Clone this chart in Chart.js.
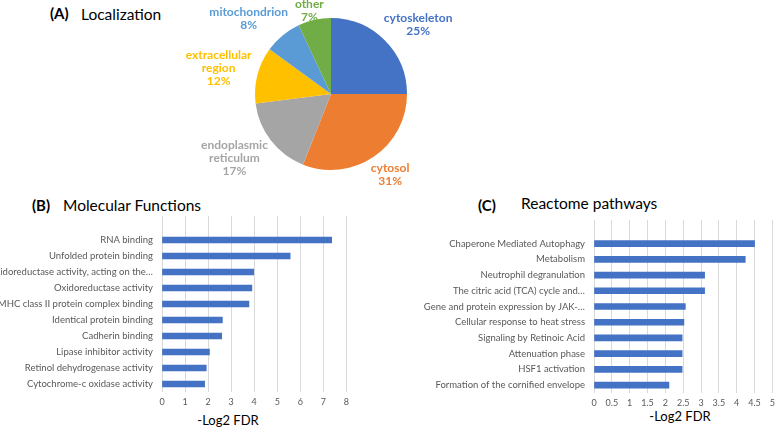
<!DOCTYPE html>
<html>
<head>
<meta charset="utf-8">
<script src="https://cdn.jsdelivr.net/npm/chart.js@4.4.1/dist/chart.umd.min.js"></script>
<style>
  body { margin: 0; width: 778px; height: 427px; overflow: hidden; background: #fff; position: relative; font-family: Lato, sans-serif; }
  .box { position: absolute; }
  .t { position: absolute; white-space: nowrap; line-height: 20px; color: #000; }
  .tag { font-weight: bold; font-size: 15px; }
  .name { font-size: 15.5px; }
  .axt { font-size: 13px; color: #000; transform: translateX(-50%); }
</style>
</head>
<body>
<div class="t tag" style="left:50px; top:3px;">(A)</div>
<div class="t name" style="left:81px; top:4px;">Localization</div>
<div class="t tag" style="left:32px; top:195px;">(B)</div>
<div class="t name" style="left:63px; top:195px;">Molecular Functions</div>
<div class="t tag" style="left:478px; top:195px;">(C)</div>
<div class="t name" style="left:521px; top:193px;">Reactome pathways</div>
<div class="t axt" style="left:228px; top:410px;">-Log2 FDR</div>
<div class="t axt" style="left:680px; top:406px;">-Log2 FDR</div>

<div class="box" style="left:150px; top:0px; width:350px; height:200px;"><canvas id="pie"></canvas></div>
<div class="box" style="left:0px; top:200px; width:354px; height:227px;"><canvas id="mf"></canvas></div>
<div class="box" style="left:380px; top:200px; width:400px; height:227px;"><canvas id="rp"></canvas></div>

<script>
// Localization (pie)
const locLabels = ['cytoskeleton', 'cytosol', 'endoplasmic reticulum', 'extracellular region', 'mitochondrion', 'other'];
const locValues = [25, 31, 17, 12, 8, 7];
const locColors = ['#4472C4', '#ED7D31', '#A5A5A5', '#FFC000', '#5B9BD5', '#70AD47'];

// Molecular Functions
const mfLabels = ['RNA binding', 'Unfolded protein binding', 'Oxidoreductase activity, acting on the…',
  'Oxidoreductase activity', 'MHC class II protein complex binding', 'Identical protein binding',
  'Cadherin binding', 'Lipase inhibitor activity', 'Retinol dehydrogenase activity', 'Cytochrome-c oxidase activity'];
const mfValues = [7.36, 5.56, 3.98, 3.9, 3.77, 2.62, 2.59, 2.06, 1.92, 1.85];

// Reactome pathways
const rpLabels = ['Chaperone Mediated Autophagy', 'Metabolism', 'Neutrophil degranulation',
  'The citric acid (TCA) cycle and…', 'Gene and protein expression by JAK-…', 'Cellular response to heat stress',
  'Signaling by Retinoic Acid', 'Attenuation phase', 'HSF1 activation', 'Formation of the cornified envelope'];
const rpValues = [4.5, 4.24, 3.1, 3.1, 2.56, 2.52, 2.47, 2.47, 2.47, 2.1];

Chart.defaults.font.family = 'Lato, sans-serif';
Chart.defaults.animation = false;

// labels outside each slice: anchor just past the rim, box leans away from the pie
const pieLabels = {
  id: 'pieLabels',
  afterDatasetsDraw(chart) {
    const ctx = chart.ctx;
    const meta = chart.getDatasetMeta(0);
    const lh = 13, gap = 6;
    ctx.save();
    ctx.font = 'bold 12px Lato, sans-serif';
    ctx.textAlign = 'center';
    ctx.textBaseline = 'middle';
    meta.data.forEach((arc, i) => {
      const lines = locLabels[i].split(' ').concat([locValues[i] + '%']);
      const w = Math.max(...lines.map(s => ctx.measureText(s).width));
      const h = lines.length * lh;
      const mid = (arc.startAngle + arc.endAngle) / 2;
      const ux = Math.cos(mid), uy = Math.sin(mid);
      const clamp = v => Math.max(-1, Math.min(1, v));
      const ax = arc.x + ux * (arc.outerRadius + gap);
      const ay = arc.y + uy * (arc.outerRadius + gap);
      const px = ax + clamp(ux * 1.2) * w / 2;
      let py = ay + clamp(uy * 1.2) * h / 2;
      py = Math.max(py, h / 2 - 2);
      const top0 = py - (lines.length - 1) * lh / 2;
      ctx.fillStyle = locColors[i];
      lines.forEach((s, k) => ctx.fillText(s, px, top0 + k * lh));
    });
    ctx.restore();
  }
};

new Chart(document.getElementById('pie'), {
  type: 'pie',
  data: {
    labels: locLabels,
    datasets: [{ data: locValues, backgroundColor: locColors, borderWidth: 0 }]
  },
  options: {
    responsive: true,
    maintainAspectRatio: false,
    layout: { padding: { left: 105, right: 93, top: 18, bottom: 30 } },
    plugins: { legend: { display: false }, tooltip: { enabled: false } }
  },
  plugins: [pieLabels]
});

function barChart(id, labels, values, max, step, yWidth, xHeight, padTop, tickPad) {
  return new Chart(document.getElementById(id), {
    type: 'bar',
    data: {
      // empty first row leaves the blank band above the top bar
      labels: [''].concat(labels),
      datasets: [{
        data: [null].concat(values),
        backgroundColor: '#4472C4',
        barThickness: 6
      }]
    },
    options: {
      indexAxis: 'y',
      responsive: true,
      maintainAspectRatio: false,
      layout: { padding: { top: padTop, right: 4, left: 0, bottom: 0 } },
      plugins: { legend: { display: false }, tooltip: { enabled: false } },
      scales: {
        x: {
          min: 0, max: max,
          ticks: { stepSize: step, color: '#595959', font: { size: 9 }, padding: tickPad,
                   maxRotation: 0, minRotation: 0, autoSkip: false,
                   callback: v => String(Math.round(v * 10) / 10) },
          grid: { color: '#d9d9d9', drawTicks: false },
          border: { display: false },
          afterFit(scale) { scale.height = xHeight; }
        },
        y: {
          ticks: { color: '#595959', font: { size: 9.5 }, padding: 9, autoSkip: false },
          grid: { display: false, drawTicks: false },
          border: { display: false },
          afterFit(scale) { scale.width = yWidth; }
        }
      }
    }
  });
}

barChart('mf', mfLabels, mfValues, 8, 1, 162, 35, 16, 5);
barChart('rp', rpLabels, rpValues, 5, 0.5, 214, 34, 20, 5);
</script>
</body>
</html>
